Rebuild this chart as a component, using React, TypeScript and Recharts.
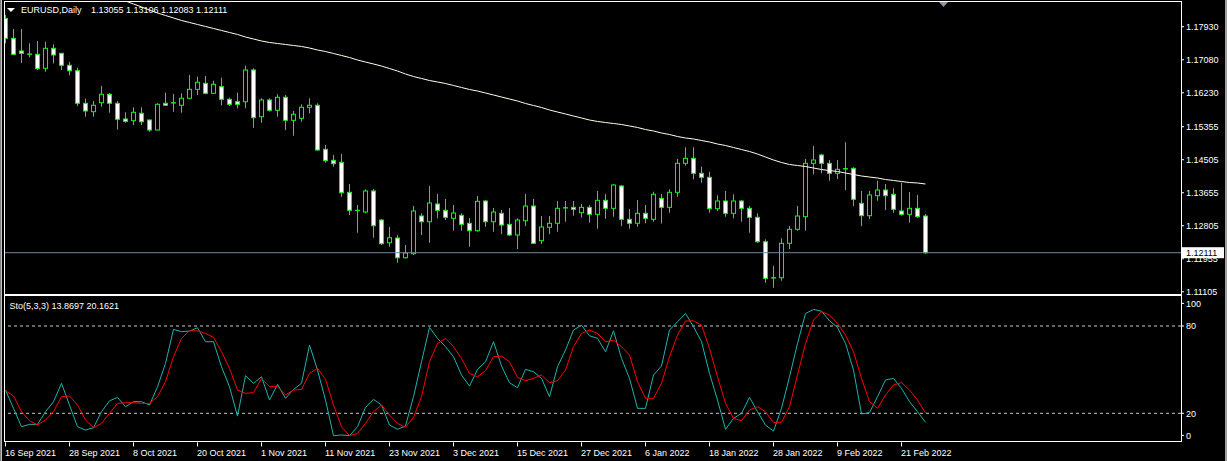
import React from 'react';
import { ComposedChart, Bar, Line, XAxis, YAxis, ReferenceLine } from 'recharts';

const FONT = '"Liberation Sans", Arial, sans-serif';
const FS = 9;

const openP = [1.18146,1.17631,1.17305,1.17228,1.17220,1.16859,1.17374,1.17245,1.16937,1.16797,1.15958,1.15742,1.15973,1.16190,1.15958,1.15554,1.15510,1.15701,1.15528,1.15270,1.15958,1.15973,1.15907,1.16087,1.16318,1.16473,1.16215,1.16385,1.16061,1.15999,1.15999,1.16816,1.15613,1.16043,1.15778,1.16113,1.15520,1.15572,1.15855,1.15907,1.14773,1.14490,1.14438,1.13666,1.13203,1.13159,1.13700,1.12953,1.12368,1.12489,1.11981,1.12085,1.13056,1.12909,1.13365,1.13203,1.12997,1.13074,1.12868,1.12678,1.13442,1.12909,1.13125,1.12842,1.12567,1.12935,1.13313,1.12420,1.12765,1.12868,1.13270,1.13279,1.13141,1.13279,1.13099,1.13460,1.13254,1.13828,1.12971,1.12868,1.13125,1.12971,1.13511,1.13279,1.13666,1.14413,1.14541,1.14155,1.14052,1.13244,1.13442,1.13125,1.13442,1.13254,1.13022,1.12394,1.11467,1.11467,1.12353,1.12713,1.13038,1.14413,1.14627,1.14413,1.14155,1.14275,1.14284,1.13383,1.13064,1.13579,1.13725,1.13615,1.13185,1.13099,1.13254,1.13055];
const highP = [1.18232,1.17871,1.17871,1.17503,1.17562,1.17544,1.17477,1.17253,1.17022,1.16875,1.16076,1.16017,1.16404,1.16223,1.16017,1.15726,1.15855,1.15855,1.15540,1.15958,1.16231,1.16197,1.16215,1.16686,1.16643,1.16661,1.16540,1.16617,1.16102,1.16231,1.16926,1.16859,1.16087,1.16087,1.16190,1.16172,1.15760,1.15932,1.16087,1.15958,1.14884,1.14627,1.14653,1.13880,1.13339,1.13743,1.13752,1.12979,1.12773,1.12567,1.12309,1.13313,1.13125,1.13828,1.13623,1.13494,1.13339,1.13125,1.13005,1.13571,1.13468,1.13262,1.13211,1.13262,1.12997,1.13623,1.13494,1.13056,1.13056,1.13442,1.13442,1.13442,1.13365,1.13339,1.13700,1.13623,1.13880,1.13854,1.13236,1.13468,1.13339,1.13682,1.13623,1.13743,1.14524,1.14825,1.14825,1.14325,1.14197,1.13589,1.13700,1.13615,1.13468,1.13313,1.13125,1.12456,1.11768,1.12482,1.12798,1.13313,1.14524,1.14858,1.14653,1.14498,1.14498,1.14954,1.14310,1.13700,1.13700,1.13965,1.13880,1.13769,1.13914,1.13674,1.13597,1.13106];
const lowP = [1.17503,1.17201,1.16996,1.17143,1.16816,1.16772,1.16988,1.16816,1.16679,1.15888,1.15613,1.15613,1.15871,1.15716,1.15288,1.15458,1.15399,1.15399,1.15227,1.15260,1.15888,1.15742,1.15716,1.16061,1.16172,1.16190,1.16197,1.15907,1.15888,1.15829,1.15829,1.15329,1.15458,1.15742,1.15613,1.15270,1.15124,1.15484,1.15701,1.14737,1.14428,1.14326,1.13553,1.13082,1.12626,1.13125,1.12497,1.12309,1.12265,1.11853,1.11961,1.12052,1.12567,1.12368,1.12997,1.12953,1.12678,1.12678,1.12265,1.12652,1.12780,1.12652,1.12592,1.12541,1.12206,1.12798,1.12335,1.12335,1.12592,1.12652,1.12909,1.13064,1.13022,1.12884,1.12729,1.12986,1.13038,1.12798,1.12729,1.12780,1.12868,1.12909,1.12868,1.13141,1.13553,1.14351,1.14001,1.13913,1.13141,1.13185,1.13038,1.12997,1.12909,1.12626,1.12368,1.11338,1.11210,1.11390,1.12206,1.12678,1.12678,1.14130,1.14155,1.13965,1.14009,1.13725,1.13313,1.12798,1.12979,1.13450,1.13211,1.13141,1.13064,1.12884,1.13012,1.12083];
const closeP = [1.17631,1.17219,1.17245,1.17220,1.16849,1.17374,1.17202,1.16937,1.16797,1.15958,1.15760,1.15907,1.16190,1.15958,1.15546,1.15494,1.15726,1.15484,1.15270,1.15932,1.15907,1.15965,1.16087,1.16318,1.16499,1.16215,1.16447,1.16061,1.15932,1.15932,1.16816,1.15587,1.16043,1.15778,1.16113,1.15520,1.15675,1.15855,1.15907,1.14755,1.14480,1.14403,1.13655,1.13203,1.13195,1.13700,1.12806,1.12343,1.12497,1.11981,1.12103,1.13185,1.12909,1.13391,1.13203,1.13022,1.13133,1.12842,1.12678,1.13434,1.12909,1.13159,1.12824,1.12567,1.12953,1.13313,1.12353,1.12773,1.12868,1.13254,1.13262,1.13228,1.13279,1.13099,1.13460,1.13254,1.13854,1.12971,1.12868,1.13125,1.12997,1.13615,1.13279,1.13666,1.14413,1.14541,1.14155,1.14052,1.13244,1.13442,1.13125,1.13442,1.13254,1.13022,1.12394,1.11451,1.11459,1.12353,1.12713,1.13056,1.14413,1.14498,1.14413,1.14155,1.14258,1.14267,1.13486,1.13064,1.13597,1.13725,1.13579,1.13228,1.13099,1.13254,1.13038,1.12111];
const maP = [1.19751,1.19674,1.19597,1.19519,1.19442,1.19365,1.19288,1.19210,1.19133,1.19056,1.18979,1.18901,1.18824,1.18747,1.18670,1.18592,1.18515,1.18438,1.18360,1.18283,1.18219,1.18155,1.18090,1.18039,1.17987,1.17936,1.17884,1.17833,1.17781,1.17730,1.17665,1.17614,1.17562,1.17524,1.17498,1.17472,1.17446,1.17421,1.17382,1.17330,1.17292,1.17240,1.17189,1.17137,1.17073,1.17021,1.16970,1.16918,1.16854,1.16790,1.16712,1.16648,1.16597,1.16545,1.16507,1.16468,1.16416,1.16365,1.16314,1.16275,1.16223,1.16172,1.16120,1.16069,1.16017,1.15953,1.15901,1.15850,1.15786,1.15734,1.15683,1.15631,1.15580,1.15528,1.15490,1.15464,1.15438,1.15412,1.15374,1.15335,1.15283,1.15245,1.15193,1.15155,1.15103,1.15065,1.15039,1.15000,1.14962,1.14910,1.14871,1.14820,1.14768,1.14717,1.14652,1.14575,1.14498,1.14434,1.14382,1.14356,1.14331,1.14292,1.14253,1.14227,1.14202,1.14163,1.14125,1.14086,1.14060,1.14035,1.13996,1.13970,1.13944,1.13919,1.13906,1.13880];
const stoK = [36.0,23.4,10.8,12.4,12.4,21.1,28.0,40.6,25.6,10.8,8.5,10.1,21.1,28.6,30.9,24.5,28.0,28.0,25.7,38.2,54.3,77.7,76.1,76.5,78.8,69.2,69.2,52.0,38.2,18.1,45.8,40.6,45.1,29.1,39.9,30.3,36.4,40.6,66.9,49.7,29.1,4.6,5.1,4.6,10.8,24.1,29.6,25.7,11.9,9.0,11.3,31.4,55.4,79.0,71.5,65.8,58.9,46.3,38.7,50.2,55.4,69.2,52.5,41.0,37.6,50.2,48.6,44.0,31.4,52.0,63.5,77.2,80.6,73.3,71.5,62.3,76.7,57.7,44.0,23.4,23.4,46.3,52.5,77.2,82.9,88.6,79.5,69.2,47.4,29.1,9.0,16.5,20.0,31.0,21.1,11.9,7.8,23.4,45.1,68.0,88.6,91.4,90.2,83.6,79.0,68.0,49.7,19.5,20.4,31.4,42.9,44.0,37.1,28.0,21.1,13.87];
const stoD = [35.5,31.9,21.1,14.9,12.0,15.4,21.1,31.4,31.9,25.7,15.4,10.1,13.1,20.0,26.8,27.3,27.3,26.8,26.8,31.4,41.7,58.9,71.5,76.7,76.7,74.9,72.2,62.3,50.9,36.0,33.7,34.2,44.0,38.3,38.3,32.6,36.0,36.4,47.4,50.9,43.3,25.7,10.8,4.6,6.2,13.1,21.1,25.7,18.8,13.1,10.4,17.2,31.4,55.4,68.0,71.5,65.8,57.7,47.4,45.1,49.3,58.9,59.3,55.4,44.7,42.4,44.0,46.3,41.0,42.4,49.7,65.8,74.9,77.2,74.9,69.2,70.3,65.8,60.1,41.7,30.3,30.3,40.6,58.9,73.8,83.4,83.6,80.6,64.6,45.1,26.8,16.5,14.9,22.3,24.5,21.1,13.6,13.9,24.5,46.3,68.0,84.0,89.8,87.5,81.8,73.7,62.3,44.0,28.0,23.4,32.6,39.5,41.1,36.0,29.1,20.16];

const dateLabels = ['16 Sep 2021','28 Sep 2021','8 Oct 2021','20 Oct 2021','1 Nov 2021','11 Nov 2021','23 Nov 2021','3 Dec 2021','15 Dec 2021','27 Dec 2021','6 Jan 2022','18 Jan 2022','28 Jan 2022','9 Feb 2022','21 Feb 2022'];
const dateIdx = [0,8,16,24,32,40,48,56,64,72,80,88,96,104,112];
const priceTicks = [1.17930,1.17080,1.16230,1.15355,1.14505,1.13655,1.12805,1.11955,1.11105];
const stoTicks = [0,20,80,100];
const stoLevels = [80,20];
const lastPrice = 1.12111;
const title = 'EURUSD,Daily';
const titleValues = '1.13055 1.13106 1.12083 1.12111';
const stoTitle = 'Sto(5,3,3) 13.8697 20.1621';

const X_DOMAIN: [number, number] = [-0.0625, 146.9375];
const P_DOMAIN: [number, number] = [1.11048, 1.18592];

const data = openP.map((o, i) => ({
  i, open: o, high: highP[i], low: lowP[i], close: closeP[i],
  ma: maP[i], k: stoK[i], d: stoD[i],
}));

const LIME = '#00ff00';

const Candle = (props: any) => {
  const { x, y, width, height, payload } = props;
  if (x == null || y == null) return null;
  const { open, close, high, low } = payload;
  const cx = Math.floor(x + width / 2) + 0.5;
  const top = Math.min(y, y + height);
  const bot = Math.max(y, y + height);
  const ppu = (bot - top) / (high - low || 1e-9);
  const yO = top + (high - open) * ppu;
  const yC = top + (high - close) * ppu;
  const bull = close > open;
  const bt = Math.min(yO, yC);
  const bb = Math.max(yO, yC);
  return (
    <g>
      <line x1={cx} x2={cx} y1={top} y2={bot} stroke={LIME} strokeWidth={1} />
      <rect x={cx - 2} y={bt} width={4} height={Math.max(bb - bt, 0.01)} fill={bull ? '#000' : '#fff'} stroke={LIME} strokeWidth={1} />
    </g>
  );
};

const PriceTick = (p: any) => {
  const { x, y, payload } = p;
  return (
    <g>
      <line x1={x} x2={x + 3} y1={y} y2={y} stroke="#fff" />
      <text x={x + 5} y={y} dy={3.3} fill="#fff" fontSize={FS} fontFamily={FONT}>{Number(payload.value).toFixed(5)}</text>
    </g>
  );
};

const StoTick = (p: any) => {
  const { x, payload } = p;
  let y = p.y;
  if (payload.value === 100) y += 6.5;
  if (payload.value === 0) y -= 7;
  return (
    <g>
      <line x1={x} x2={x + 3} y1={y} y2={y} stroke="#fff" />
      <text x={x + 5} y={y} dy={3.3} fill="#fff" fontSize={FS} fontFamily={FONT}>{String(payload.value)}</text>
    </g>
  );
};

const DateTick = (p: any) => {
  const { x, y, payload } = p;
  const idx = dateIdx.indexOf(payload.value);
  return (
    <g>
      <line x1={x} x2={x} y1={y} y2={y + 4} stroke="#fff" />
      <text x={x - 0.5} y={y + 13.5} fill="#fff" fontSize={FS} fontFamily={FONT}>{idx >= 0 ? dateLabels[idx] : ''}</text>
    </g>
  );
};

const LastPriceLabel = (p: any) => {
  const vb = p.viewBox || {};
  const xr = (vb.x || 0) + (vb.width || 0);
  const yy = vb.y || 0;
  return (
    <g>
      <rect x={xr + 1} y={yy - 5.5} width={42} height={11} fill="#fff" />
      <text x={xr + 5} y={yy} dy={3.3} fill="#000" fontSize={FS} fontFamily={FONT}>{lastPrice.toFixed(5)}</text>
    </g>
  );
};

export default function App() {
  return (
    <div style={{ position: 'absolute', left: 0, top: 0, width: 1227, height: 461, background: '#000', overflow: 'hidden' }}>
      <div style={{ position: 'absolute', left: 0, top: 0 }}>
        <ComposedChart width={1227} height={295} data={data} margin={{ top: 1, right: 0, bottom: 1, left: 5 }}>
          <XAxis type="number" dataKey="i" domain={X_DOMAIN} hide allowDataOverflow />
          <YAxis
            yAxisId="p"
            orientation="right"
            type="number"
            width={46}
            domain={P_DOMAIN}
            allowDataOverflow
            ticks={priceTicks}
            interval={0}
            axisLine={false}
            tickLine={false}
            tickSize={0}
            tickMargin={0}
            tick={<PriceTick />}
          />
          <Line yAxisId="p" dataKey="ma" type="linear" stroke="#fffde6" strokeWidth={1} dot={false} activeDot={false} isAnimationActive={false} />
          <Bar yAxisId="p" dataKey={(d: any) => [d.low, d.high]} shape={<Candle />} isAnimationActive={false} />
          <ReferenceLine yAxisId="p" y={lastPrice} stroke="#778899" strokeWidth={1} label={LastPriceLabel} />
        </ComposedChart>
      </div>
      <div style={{ position: 'absolute', left: 0, top: 295 }}>
        <ComposedChart width={1227} height={166} data={data} margin={{ top: 1.9, right: 0, bottom: 0, left: 5 }}>
          <XAxis
            type="number"
            dataKey="i"
            domain={X_DOMAIN}
            allowDataOverflow
            ticks={dateIdx}
            interval={0}
            height={18.6}
            axisLine={false}
            tickLine={false}
            tickSize={0}
            tickMargin={0}
            tick={<DateTick />}
          />
          <YAxis
            orientation="right"
            type="number"
            width={46}
            domain={[0, 100]}
            allowDataOverflow
            ticks={stoTicks}
            interval={0}
            axisLine={false}
            tickLine={false}
            tickSize={0}
            tickMargin={0}
            tick={<StoTick />}
          />
          {stoLevels.map((lv) => (
            <ReferenceLine key={lv} y={lv} stroke="#c8c8c8" strokeDasharray="3 3" strokeWidth={1} />
          ))}
          <Line dataKey="k" type="linear" stroke="#20b2aa" strokeWidth={1} dot={false} activeDot={false} isAnimationActive={false} />
          <Line dataKey="d" type="linear" stroke="#ff0000" strokeWidth={1} dot={false} activeDot={false} isAnimationActive={false} />
        </ComposedChart>
      </div>
      <svg width={1227} height={461} style={{ position: 'absolute', left: 0, top: 0, pointerEvents: 'none' }}>
        <rect x={0} y={0} width={1} height={461} fill="#808080" />
        <rect x={1} y={0} width={1} height={461} fill="#c0c0c0" />
        <rect x={1225} y={0} width={2} height={461} fill="#a0a0a0" />
        <rect x={4.5} y={1.5} width={1177} height={293} fill="none" stroke="#fff" strokeWidth={1} />
        <rect x={4.5} y={295.5} width={1177} height={146} fill="none" stroke="#fff" strokeWidth={1} />
        <polygon points="7,8 15,8 11,12" fill="#fff" />
        <polygon points="939,2 948,2 943.5,7" fill="#8a96a8" />
        <text x={21} y={13} fill="#fff" fontSize={FS} fontFamily={FONT}>{title}</text>
        <text x={91} y={13} fill="#fff" fontSize={FS} fontFamily={FONT}>{titleValues}</text>
        <text x={9.5} y={309} fill="#fff" fontSize={FS} fontFamily={FONT}>{stoTitle}</text>
      </svg>
    </div>
  );
}
